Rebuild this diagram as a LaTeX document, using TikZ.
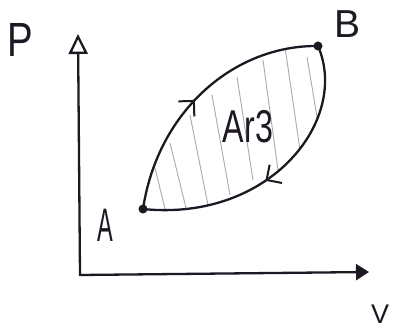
\documentclass[tikz,border=0pt]{standalone}
\usepackage{fontspec}
\setmainfont{Liberation Sans}
\usepackage{graphicx}
\usetikzlibrary{arrows.meta,decorations.markings}
\definecolor{ink}{RGB}{30,24,34}
\definecolor{hatch}{RGB}{172,168,176}
\begin{document}
\begin{tikzpicture}[x=1pt,y=-1pt,
  curve/.style={draw=ink,line width=2.3pt},
  axis/.style={draw=ink,line width=2.3pt},
  dot/.style={circle,fill=ink,inner sep=0pt,minimum size=9pt},
  lbl/.style={text=ink,inner sep=0pt},
  hatchline/.style={draw=hatch,line width=0.9pt},
  flowmark/.style={postaction={decorate},decoration={markings,mark=at position #1 with {\arrow[ink,line width=2pt]{Straight Barb[length=11pt,width=22pt]}}}}
]
\useasboundingbox (0,0) rectangle (395,331);
\fill[white] (0,0) rectangle (395,331);

% points
\node[dot] (A) at (143,209) {};
\node[dot] (B) at (318,46) {};

% hatching
\begin{scope}
  \clip (143,209) .. controls (158,110) and (235,45) .. (318,46)
        .. controls (350,120) and (270,222) .. (143,209) -- cycle;
  \draw[hatchline] (155,168) -- (167,217);
  \draw[hatchline] (170,143) -- (187,212);
  \draw[hatchline] (190,115) -- (208,205);
  \draw[hatchline] (212,95) -- (230,195);
  \draw[hatchline] (237,77) -- (253,180);
  \draw[hatchline] (263,60) -- (278,170);
  \draw[hatchline] (285,47) -- (300,150);
  \draw[hatchline] (307,57) -- (318,123);
\end{scope}

% cycle curves
\draw[curve,flowmark=0.47] (A.center) .. controls (158,110) and (235,45) .. (B.center);
\draw[curve,flowmark=0.55] (B.center) .. controls (350,120) and (270,222) .. (A.center);

% axes
\coordinate (O) at (80,275);
\coordinate (Ytip) at (78,34);
\coordinate (Xtip) at (369,272);
\draw[axis,{Triangle[open,length=20pt,width=19pt]}-{Triangle[length=13pt,width=16pt]}] (Ytip) -- (O) -- (Xtip);

% labels
\node[lbl] (labP) at (20,40) {\fontsize{48}{48}\selectfont\scalebox{0.8}[1]{P}};
\node[lbl] (labA) at (105,225) {\fontsize{47}{47}\selectfont\scalebox{0.5}[1]{A}};
\node[lbl] (labB) at (347,24) {\fontsize{39}{39}\selectfont B};
\node[lbl] (labV) at (380,314) {\fontsize{27}{27}\selectfont V};
\node[lbl] (area) at (248,127) {\fontsize{46}{46}\selectfont\scalebox{0.7}[1]{Ar3}};
\end{tikzpicture}
\end{document}
